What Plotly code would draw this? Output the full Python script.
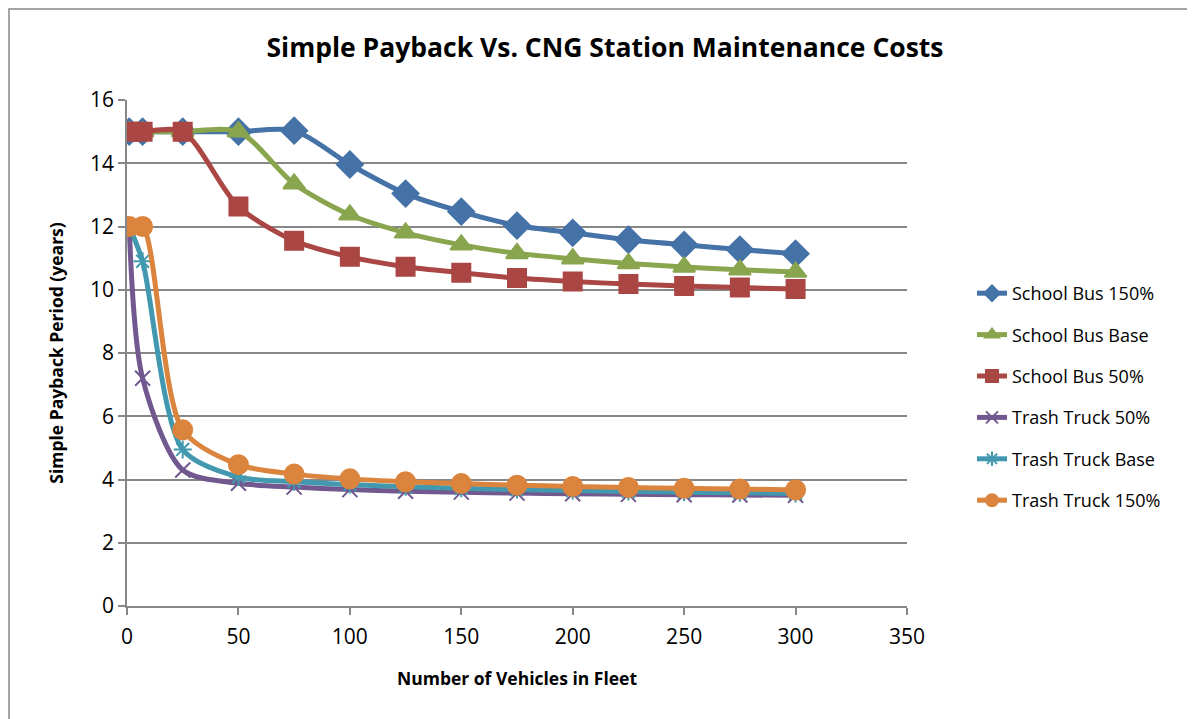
import plotly.graph_objects as go

fleet = [1, 7, 25, 50, 75, 100, 125, 150, 175, 200, 225, 250, 275, 300]

school_bus_150 = [15, 15, 15, 15, 15.03, 13.96, 13.04, 12.47, 12.03, 11.8, 11.58, 11.42, 11.27, 11.14]
school_bus_base = [15, 15, 15, 15, 13.35, 12.37, 11.8, 11.42, 11.15, 10.98, 10.83, 10.72, 10.63, 10.56]
school_bus_50 = [15, 15, 15, 12.63, 11.55, 11.04, 10.73, 10.54, 10.37, 10.26, 10.18, 10.12, 10.07, 10.02]
trash_truck_50 = [12, 7.2, 4.3, 3.88, 3.76, 3.68, 3.63, 3.6, 3.57, 3.55, 3.53, 3.52, 3.51, 3.5]
trash_truck_base = [12, 10.9, 4.95, 4.08, 3.93, 3.84, 3.77, 3.72, 3.68, 3.65, 3.62, 3.6, 3.58, 3.56]
trash_truck_150 = [12, 12, 5.57, 4.47, 4.17, 4.02, 3.93, 3.87, 3.82, 3.78, 3.75, 3.72, 3.7, 3.67]

series = [
    ("School Bus 150%", school_bus_150, "#4572A7", "diamond", 20),
    ("School Bus Base", school_bus_base, "#89A54E", "triangle-up", 19),
    ("School Bus 50%", school_bus_50, "#AA4643", "square", 18),
    ("Trash Truck 50%", trash_truck_50, "#71588F", "x-thin-open", 15),
    ("Trash Truck Base", trash_truck_base, "#4198AF", "asterisk-open", 15),
    ("Trash Truck 150%", trash_truck_150, "#DB843D", "circle", 19),
]

fig = go.Figure()
for i, (name, ys, color, sym, sz) in enumerate(series):
    fig.add_trace(go.Scatter(
        x=fleet, y=ys, name=name, mode="lines+markers",
        line=dict(color=color, width=5, shape="spline", smoothing=0.8),
        marker=dict(symbol=sym, size=sz, color=color,
                    line=dict(color=color, width=2)),
        legendgroup=f"g{i}",
    ))

font_family = "Open Sans, Liberation Sans, sans-serif"

# page has an 8px body margin, so the figure is offset by 8px
W, H = 1187, 711
pl, pr, pt, pb = 119, 1187 - 899, 92, 711 - 598
pw, ph = 899 - 119, 598 - 92

fig.update_layout(
    width=W, height=H,
    margin=dict(l=pl, r=pr, t=pt, b=pb),
    paper_bgcolor="white", plot_bgcolor="white",
    font=dict(family=font_family, color="black"),
    title=dict(text="<b>Simple Payback Vs. CNG Station Maintenance Costs</b>",
               x=597 / W, xanchor="center", y=1 - 40 / H, yanchor="middle",
               font=dict(size=26.5, family=font_family, color="black")),
    legend=dict(x=(964 - 119) / pw, xanchor="left", y=(598 - 389) / ph, yanchor="middle",
                font=dict(size=18, family=font_family, color="black"),
                tracegroupgap=15, itemsizing="constant",
                bgcolor="rgba(0,0,0,0)"),
    showlegend=True,
    shapes=[dict(type="rect", xref="paper", yref="paper",
                 x0=(1 - pl) / pw, x1=(W + 20 - pl) / pw,
                 y0=(598 - H - 20) / ph, y1=(598 - 1) / ph,
                 line=dict(color="#878787", width=1.5), layer="below")],
)

fig.update_xaxes(
    range=[0, 350], tickvals=[0, 50, 100, 150, 200, 250, 300, 350],
    showgrid=False, showline=True, linecolor="#878787", linewidth=1.5,
    ticks="outside", ticklen=7, tickcolor="#878787", tickwidth=1.5,
    tickfont=dict(size=21, family=font_family, color="black"),
    ticklabelstandoff=4,
    title=dict(text="<b>Number of Vehicles in Fleet</b>",
               font=dict(size=17.5, family=font_family, color="black"), standoff=24),
    zeroline=False,
)
fig.update_yaxes(
    range=[0, 16], tickvals=[0, 2, 4, 6, 8, 10, 12, 14, 16],
    showgrid=True, gridcolor="#878787", gridwidth=1.5,
    showline=True, linecolor="#878787", linewidth=1.5,
    ticks="outside", ticklen=7, tickcolor="#878787", tickwidth=1.5,
    tickfont=dict(size=21, family=font_family, color="black"),
    title=dict(text="<b>Simple Payback Period (years)</b>",
               font=dict(size=17.5, family=font_family, color="black"), standoff=22),
    zeroline=False,
)

fig.write_html("out.html")
